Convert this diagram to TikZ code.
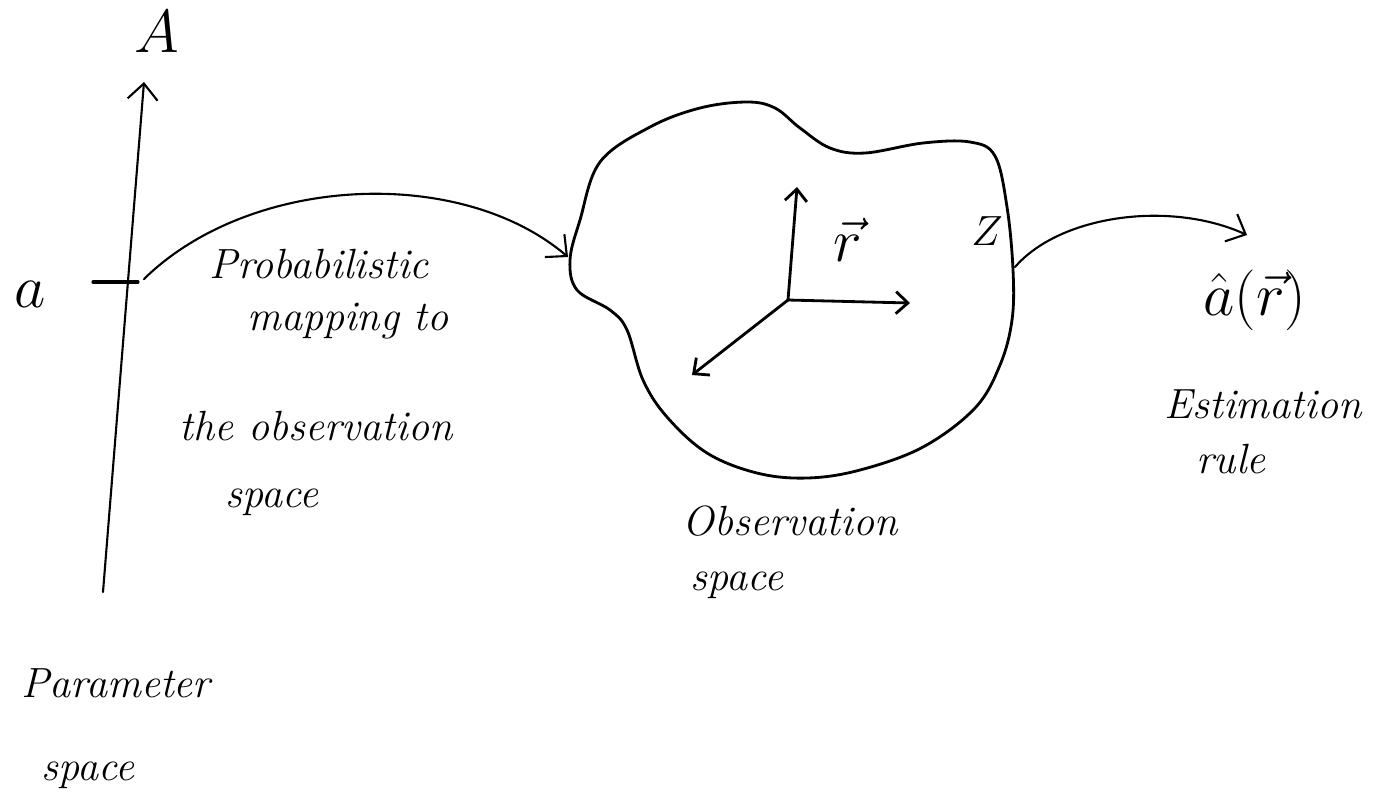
\documentclass[tikz,border=0pt]{standalone}
\usepackage{amsmath,amssymb}
\usepackage{tikz}
\usetikzlibrary{arrows.meta}
\usepackage{xcolor}
\tikzset{hand/.style={font=\fontsize{12}{14}\selectfont\itshape,anchor=base,inner sep=0pt},
  sym/.style={font=\fontsize{18}{20}\selectfont,inner sep=0pt}}
\begin{document}
\begin{tikzpicture}[x=0.01cm,y=-0.01cm,>={Straight Barb[length=1.6mm,width=3mm]},line cap=round]
\useasboundingbox (0,0) rectangle (1377,802);
% parameter axis
\coordinate (abot) at (103,592);
\coordinate (atop) at (144,82);
\draw[->,line width=0.6pt] (abot)--(atop);
\node[sym] (A) at (157,32) {$A$};
\coordinate (tickl) at (93,282);
\coordinate (tickr) at (138,282);
\draw[line width=0.9pt] (tickl)--(tickr);
\node[sym] (a) at (30,294) {$a$};
% observation space
\draw[line width=0.8pt] plot[smooth cycle,tension=0.6] coordinates {(570,260) (580,220) (600,162) (650,127) (700,108) (747,102) (775,108) (800,128) (830,148) (865,153) (923,143) (970,142) (995,156) (1007,207) (1013,270) (1012,320) (1000,365) (975,408) (923,447) (860,470) (807,478) (757,473) (707,453) (667,417) (643,380) (627,330) (610,310) (577,290)};
\coordinate (o) at (788,300);
\foreach \nm/\x/\y in {up/797/187,right/910/303,depth/692/375}{
  \coordinate (\nm) at (\x,\y);
  \draw[->,line width=0.8pt,>={Straight Barb[length=1.2mm,width=2.2mm]}] (o)--(\nm);}
\node[sym] (rvec) at (848,240) {$\vec r$};
\node[sym,font=\fontsize{13}{15}\selectfont] (Z) at (987,231) {$Z$};
% mappings
\coordinate (mapout) at (144,279);
\coordinate (mapin) at (568,257);
\draw[->,line width=0.6pt] (mapout) .. controls (250,175) and (460,165) .. (mapin);
\coordinate (zout) at (1015,267);
\coordinate (est) at (1247,235);
\draw[->,line width=0.6pt] (zout) .. controls (1060,215) and (1170,200) .. (est);
\node[sym] (ahat) at (1255,300) {$\hat a(\vec r)$};
% words
\foreach \nm/\x/\y/\txt in {prob/319/278/Probabilistic, mapto/348/330/mapping to, theobs/316/440/the observation, mapsp/272/507/space, param/116/697/Parameter, parsp/88/780/space, obs/790/535/Observation, obssp/737/590/space, estim/1263/418/Estimation, rule/1231/473/rule}
  \node[hand] (\nm) at (\x,\y) {\txt};
\end{tikzpicture}
\end{document}
